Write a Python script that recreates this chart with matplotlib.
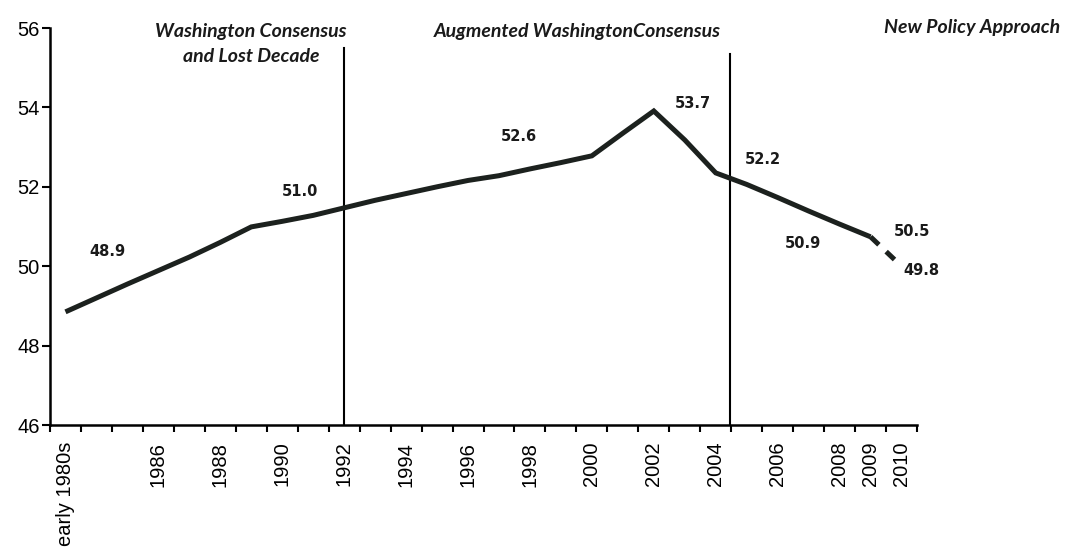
import matplotlib
matplotlib.use("Agg")
import matplotlib.pyplot as plt
import numpy as np

# ---- data ----
tick_labels = ["early 1980s", "", "", "1986", "", "1988", "", "1990", "", "1992",
               "", "1994", "", "1996", "", "1998", "", "2000", "", "2002",
               "", "2004", "", "2006", "", "2008", "2009", "2010"]
values = [48.85, 49.2, 49.55, 49.89, 50.23, 50.6, 50.99, 51.13, 51.28, 51.47,
          51.66, 51.83, 52.0, 52.16, 52.28, 52.45, 52.61, 52.78, 53.35, 53.91,
          53.18, 52.35, 52.06, 51.73, 51.39, 51.06, 50.74, 50.0]
value_labels = ["48.9", "51.0", "52.6", "53.7", "52.2", "50.9", "50.5", "49.8"]
period_titles = ["Washington Consensus\nand Lost Decade",
                 "Augmented WashingtonConsensus",
                 "New Policy Approach"]
period_breaks = [9, 21.45]
yticks = [46, 48, 50, 52, 54, 56]

# ---- layout ----
label_pos = [(1.37, 50.36), (7.56, 51.87), (14.63, 53.26), (20.27, 54.11),
             (22.53, 52.70), (23.82, 50.58), (27.34, 50.88), (27.65, 49.9)]
title_pos = [(251, 44), (577, 31), (972, 27)]  # pixel centres

W, H = 1070, 551
fig = plt.figure(figsize=(W / 100, H / 100), dpi=100)
ax = fig.add_axes([50 / W, 1 - 425 / H, (917 - 50) / W, (425 - 28) / H])

n = len(values)
x = np.arange(n)
lc = "#1c211e"
ax.plot(x[:-1], values[:-1], color=lc, lw=3.6, solid_joinstyle="miter",
        solid_capstyle="butt", zorder=3)
ax.plot(x[-2:], values[-2:], color=lc, lw=3.6, dashes=(2.3, 2.0),
        dash_capstyle="butt", zorder=3)

for b, top in zip(period_breaks, [55.5, 55.35]):
    ax.plot([b, b], [46, top], color="black", lw=1.5, zorder=2)

ax.set_xlim(-0.5, n - 0.5)
ax.set_ylim(46, 56)

ax.set_xticks(np.arange(-0.5, n, 1.0))
ax.set_xticklabels([])
ax.tick_params(axis="x", which="major", direction="out", length=5, width=1.5)
ax.set_xticks(x, minor=True)
ax.set_xticklabels(tick_labels, minor=True, rotation=90, va="top", ha="center",
                   fontsize=14.5, family="Liberation Sans")
ax.tick_params(axis="x", which="minor", length=0, pad=12)

ax.set_yticks(yticks)
ax.set_yticklabels([str(v) for v in yticks], fontsize=14.5, family="Liberation Sans")
ax.tick_params(axis="y", direction="out", length=6, width=1.5, pad=1.5)

for s in ["top", "right"]:
    ax.spines[s].set_visible(False)
for s in ["left", "bottom"]:
    ax.spines[s].set_linewidth(1.8)

for t, (px, py) in zip(value_labels, label_pos):
    ax.text(px, py, t, ha="center", va="center", fontsize=10.5,
            fontweight="bold", family="DejaVu Sans", color="#1a1a1a")

for t, (px, py) in zip(period_titles, title_pos):
    fig.text(px / W, 1 - py / H, t, ha="center", va="center", fontsize=14,
             style="italic", fontweight="bold", family="Lato",
             linespacing=1.6, color="#1a1a1a")

fig.savefig("out.png", dpi=100)
